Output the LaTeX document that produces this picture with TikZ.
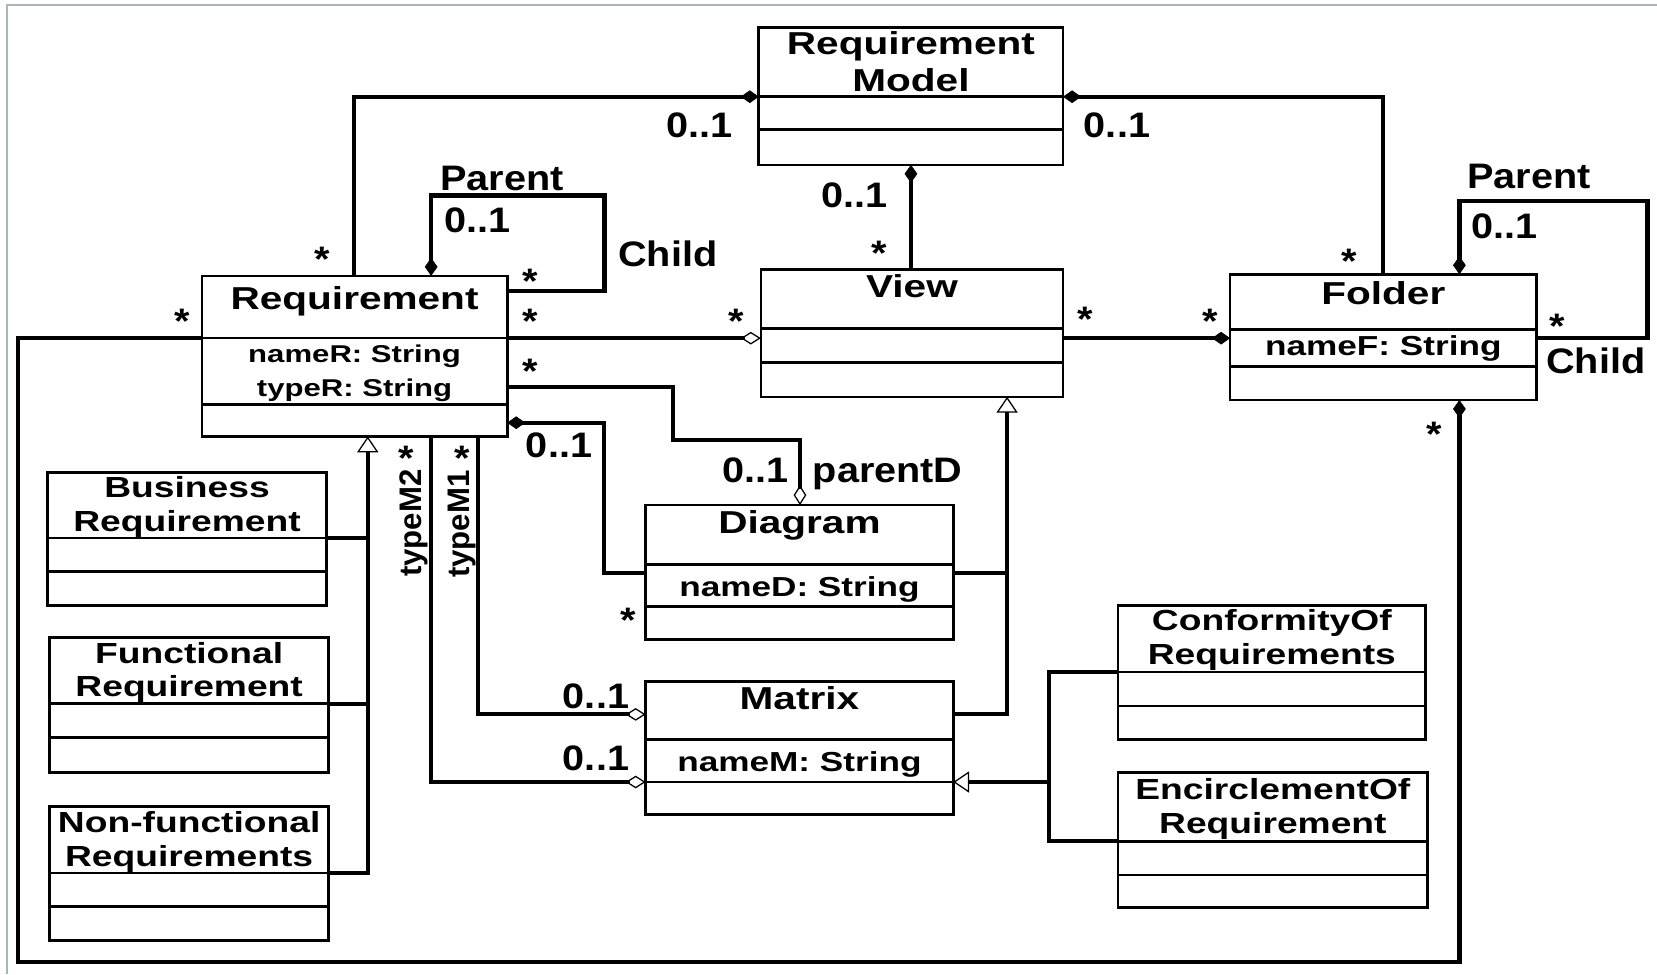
\documentclass[tikz,border=0pt]{standalone}
\usepackage{fontspec}
\usetikzlibrary{arrows.meta}
\newfontfamily\boxfont[FakeStretch=1.28]{Liberation Sans}
\newfontfamily\lblfont[FakeStretch=1.12]{Liberation Sans}
\newfontfamily\rotfont{Liberation Sans}
\definecolor{frameclr}{HTML}{A7B6BE}
\tikzset{
  UComp/.tip={Diamond[length=17pt,width=12pt,line width=0.5pt]},
  UAgg/.tip={Diamond[open,length=19pt,width=12pt,line width=1.2pt]},
  UGen/.tip={Triangle[open,length=15pt,width=20pt,line width=1.2pt]}
}
\begin{document}
\begin{tikzpicture}[x=1pt,y=-1pt,
  cls/.style={draw, line width=2.5pt, inner sep=0pt, outer sep=0pt, anchor=north west},
  divl/.style={line width=2.5pt},
  conn/.style={line width=4pt},
  ttl/.style={font=\boxfont\bfseries\fontsize{30}{36}\selectfont, anchor=base, inner sep=0pt},
  sttl/.style={font=\boxfont\bfseries\fontsize{27.5}{33}\selectfont, anchor=base, inner sep=0pt},
  attr/.style={font=\boxfont\bfseries\fontsize{26}{31}\selectfont, anchor=base, inner sep=0pt},
  attrs/.style={font=\boxfont\bfseries\fontsize{23}{28}\selectfont, anchor=base, inner sep=0pt},
  lbl/.style={font=\lblfont\bfseries\fontsize{33.5}{40}\selectfont, anchor=base, inner sep=0pt, yshift=-12pt},
  ast/.style={font=\lblfont\bfseries\fontsize{33.5}{40}\selectfont, anchor=base, inner sep=0pt, yshift=-18.6pt},
  rlbl/.style={font=\rotfont\bfseries\fontsize{29.5}{35}\selectfont, anchor=center, inner sep=0pt, rotate=90}
]
\useasboundingbox (0,0) rectangle (1568,922);
\draw[draw=frameclr, line width=2pt] (7,922) -- (7,5) -- (1568,5);

% ---------- classes ----------
\node[cls, minimum width=288pt, minimum height=130pt] (rm) at (718,26) {};
\draw[divl] (rm.west |- 0,91.5) -- (rm.east |- 0,91.5);
\draw[divl] (rm.west |- 0,122.5) -- (rm.east |- 0,122.5);
\node[ttl] (rmt1) at (862,52) {Requirement};
\node[ttl] (rmt2) at (862,86.7) {Model};

\node[cls, minimum width=286pt, minimum height=120.5pt] (view) at (720,255) {};
\draw[divl] (view.west |- 0,311) -- (view.east |- 0,311);
\draw[divl] (view.west |- 0,343) -- (view.east |- 0,343);
\node[ttl] (viewt) at (863,281.5) {View};

\node[cls, minimum width=290pt, minimum height=119pt] (folder) at (1164,259.5) {};
\draw[divl] (folder.west |- 0,312) -- (folder.east |- 0,312);
\draw[divl] (folder.west |- 0,347) -- (folder.east |- 0,347);
\node[ttl] (foldert) at (1309,288) {Folder};
\node[attr] (foldera) at (1309,336) {nameF: String};

\node[cls, minimum width=289pt, minimum height=152pt] (req) at (191,261) {};
\draw[divl] (req.west |- 0,320) -- (req.east |- 0,320);
\draw[divl] (req.west |- 0,383) -- (req.east |- 0,383);
\node[ttl] (reqt) at (335.5,293.3) {Requirement};
\node[attrs] (reqa1) at (335.5,343.2) {nameR: String};
\node[attrs] (reqa2) at (335.5,375.3) {typeR: String};

\node[cls, minimum width=264pt, minimum height=126pt] (bus) at (45,447) {};
\draw[divl] (bus.west |- 0,509) -- (bus.east |- 0,509);
\draw[divl] (bus.west |- 0,541) -- (bus.east |- 0,541);
\node[sttl] (bust1) at (177,471) {Business};
\node[sttl] (bust2) at (177,502.5) {Requirement};

\node[cls, minimum width=264pt, minimum height=128pt] (fun) at (47,603) {};
\draw[divl] (fun.west |- 0,666) -- (fun.east |- 0,666);
\draw[divl] (fun.west |- 0,698) -- (fun.east |- 0,698);
\node[sttl] (funt1) at (179,628) {Functional};
\node[sttl] (funt2) at (179,659.5) {Requirement};

\node[cls, minimum width=264pt, minimum height=127pt] (nfr) at (47,763) {};
\draw[divl] (nfr.west |- 0,826) -- (nfr.east |- 0,826);
\draw[divl] (nfr.west |- 0,858) -- (nfr.east |- 0,858);
\node[sttl] (nfrt1) at (179,788) {Non-functional};
\node[sttl] (nfrt2) at (179,819.5) {Requirements};

\node[cls, minimum width=291pt, minimum height=127pt] (diag) at (611,478) {};
\draw[divl] (diag.west |- 0,534) -- (diag.east |- 0,534);
\draw[divl] (diag.west |- 0,574) -- (diag.east |- 0,574);
\node[ttl] (diagt) at (756.5,504.7) {Diagram};
\node[attr] (diaga) at (756.5,564.6) {nameD: String};

\node[cls, minimum width=291pt, minimum height=126pt] (mat) at (611,645) {};
\draw[divl] (mat.west |- 0,700) -- (mat.east |- 0,700);
\draw[divl] (mat.west |- 0,740) -- (mat.east |- 0,740);
\node[ttl] (matt) at (756.5,671) {Matrix};
\node[attr] (mata) at (756.5,730) {nameM: String};

\node[cls, minimum width=291pt, minimum height=127pt] (conf) at (1058,573) {};
\draw[divl] (conf.west |- 0,636) -- (conf.east |- 0,636);
\draw[divl] (conf.west |- 0,668) -- (conf.east |- 0,668);
\node[sttl] (conft1) at (1203.5,597) {ConformityOf};
\node[sttl] (conft2) at (1203.5,629) {Requirements};

\node[cls, minimum width=293pt, minimum height=128pt] (enc) at (1058,731) {};
\draw[divl] (enc.west |- 0,796) -- (enc.east |- 0,796);
\draw[divl] (enc.west |- 0,828) -- (enc.east |- 0,828);
\node[sttl] (enct1) at (1204.5,757) {EncirclementOf};
\node[sttl] (enct2) at (1204.5,789) {Requirement};

% ---------- connectors ----------
\draw[conn, -{UComp}] (req.north -| 335,0) |- (rm.west |- 0,91.5);
\draw[conn, {UComp}-] (rm.east |- 0,91.5) -| (folder.north -| 1309,0);
\draw[conn, {UComp}-] (rm.south -| 862,0) -- (view.north -| 862,0);
\draw[conn, {UComp}-] (req.north -| 408,0) -- (408,185) -- (572,185) -- (572,275) -- (req.east |- 0,275);
\draw[conn, -{UAgg}] (req.east |- 0,320) -- (view.west |- 0,320);
\draw[conn, -{UComp}] (req.west |- 0,320) -- (17,320) -- (17,910) -- (1381,910) -- (folder.south -| 1381,0);
\draw[conn, -{UComp}] (view.east |- 0,320) -- (folder.west |- 0,320);
\draw[conn, {UComp}-] (folder.north -| 1381,0) -- (1381,190) -- (1559,190) -- (1559,320) -- (folder.east |- 0,320);
\draw[conn, -{UAgg}] (req.east |- 0,366) -- (637,366) -- (637,416) -- (757,416) -- (diag.north -| 757,0);
\draw[conn, {UComp}-] (req.east |- 0,400) -- (571.5,400) -- (571.5,542) -- (diag.west |- 0,542);
\draw[conn, -{UGen}] (mat.east |- 0,676) -| (view.south -| 953,0);
\draw[conn] (diag.east |- 0,542) -- (953,542);
\draw[conn, -{UGen}] (nfr.east |- 0,826) -| (req.south -| 348,0);
\draw[conn] (bus.east |- 0,509) -- (348,509);
\draw[conn] (fun.east |- 0,666) -- (348,666);
\draw[conn, -{UAgg}] (req.south -| 452,0) |- (mat.west |- 0,676);
\draw[conn, -{UAgg}] (req.south -| 408,0) |- (mat.west |- 0,740);
\draw[conn, -{UGen}] (conf.west |- 0,636) -| (993,740) -- (mat.east |- 0,740);
\draw[conn] (enc.west |- 0,796) -| (993,740);

% ---------- labels ----------
\node[lbl] (l1) at (662,118) {0..1};
\node[lbl] (l2) at (1057,118) {0..1};
\node[lbl] (l3) at (809,184) {0..1};
\node[lbl] (l4) at (452,208) {0..1};
\node[lbl] (l5) at (1424,214) {0..1};
\node[lbl] (l6) at (715,445) {0..1};
\node[lbl] (l7) at (529,421) {0..1};
\node[lbl] (l8) at (564,658) {0..1};
\node[lbl] (l9) at (564,717) {0..1};
\node[lbl] (p1) at (475,168) {Parent};
\node[lbl] (p2) at (1447,166) {Parent};
\node[lbl] (c1) at (632,240) {Child};
\node[lbl] (c2) at (1510,341) {Child};
\node[lbl] (pd) at (840,445) {parentD};
\node[ast] (a1) at (305,238) {*};
\node[ast] (a2) at (1277,240) {*};
\node[ast] (a3) at (832,233) {*};
\node[ast] (a4) at (502,259) {*};
\node[ast] (a5) at (502,297) {*};
\node[ast] (a6) at (697,297) {*};
\node[ast] (a7) at (172,297) {*};
\node[ast] (a8) at (1357,404) {*};
\node[ast] (a9) at (1027,295) {*};
\node[ast] (a10) at (1145,297) {*};
\node[ast] (a11) at (1474,302) {*};
\node[ast] (a12) at (502,344) {*};
\node[ast] (a13) at (594,580) {*};
\node[ast] (a14) at (437,427) {*};
\node[ast] (a15) at (384,427) {*};
\node[rlbl] (tm1) at (437,496) {typeM1};
\node[rlbl] (tm2) at (392,495) {typeM2};
\end{tikzpicture}
\end{document}
